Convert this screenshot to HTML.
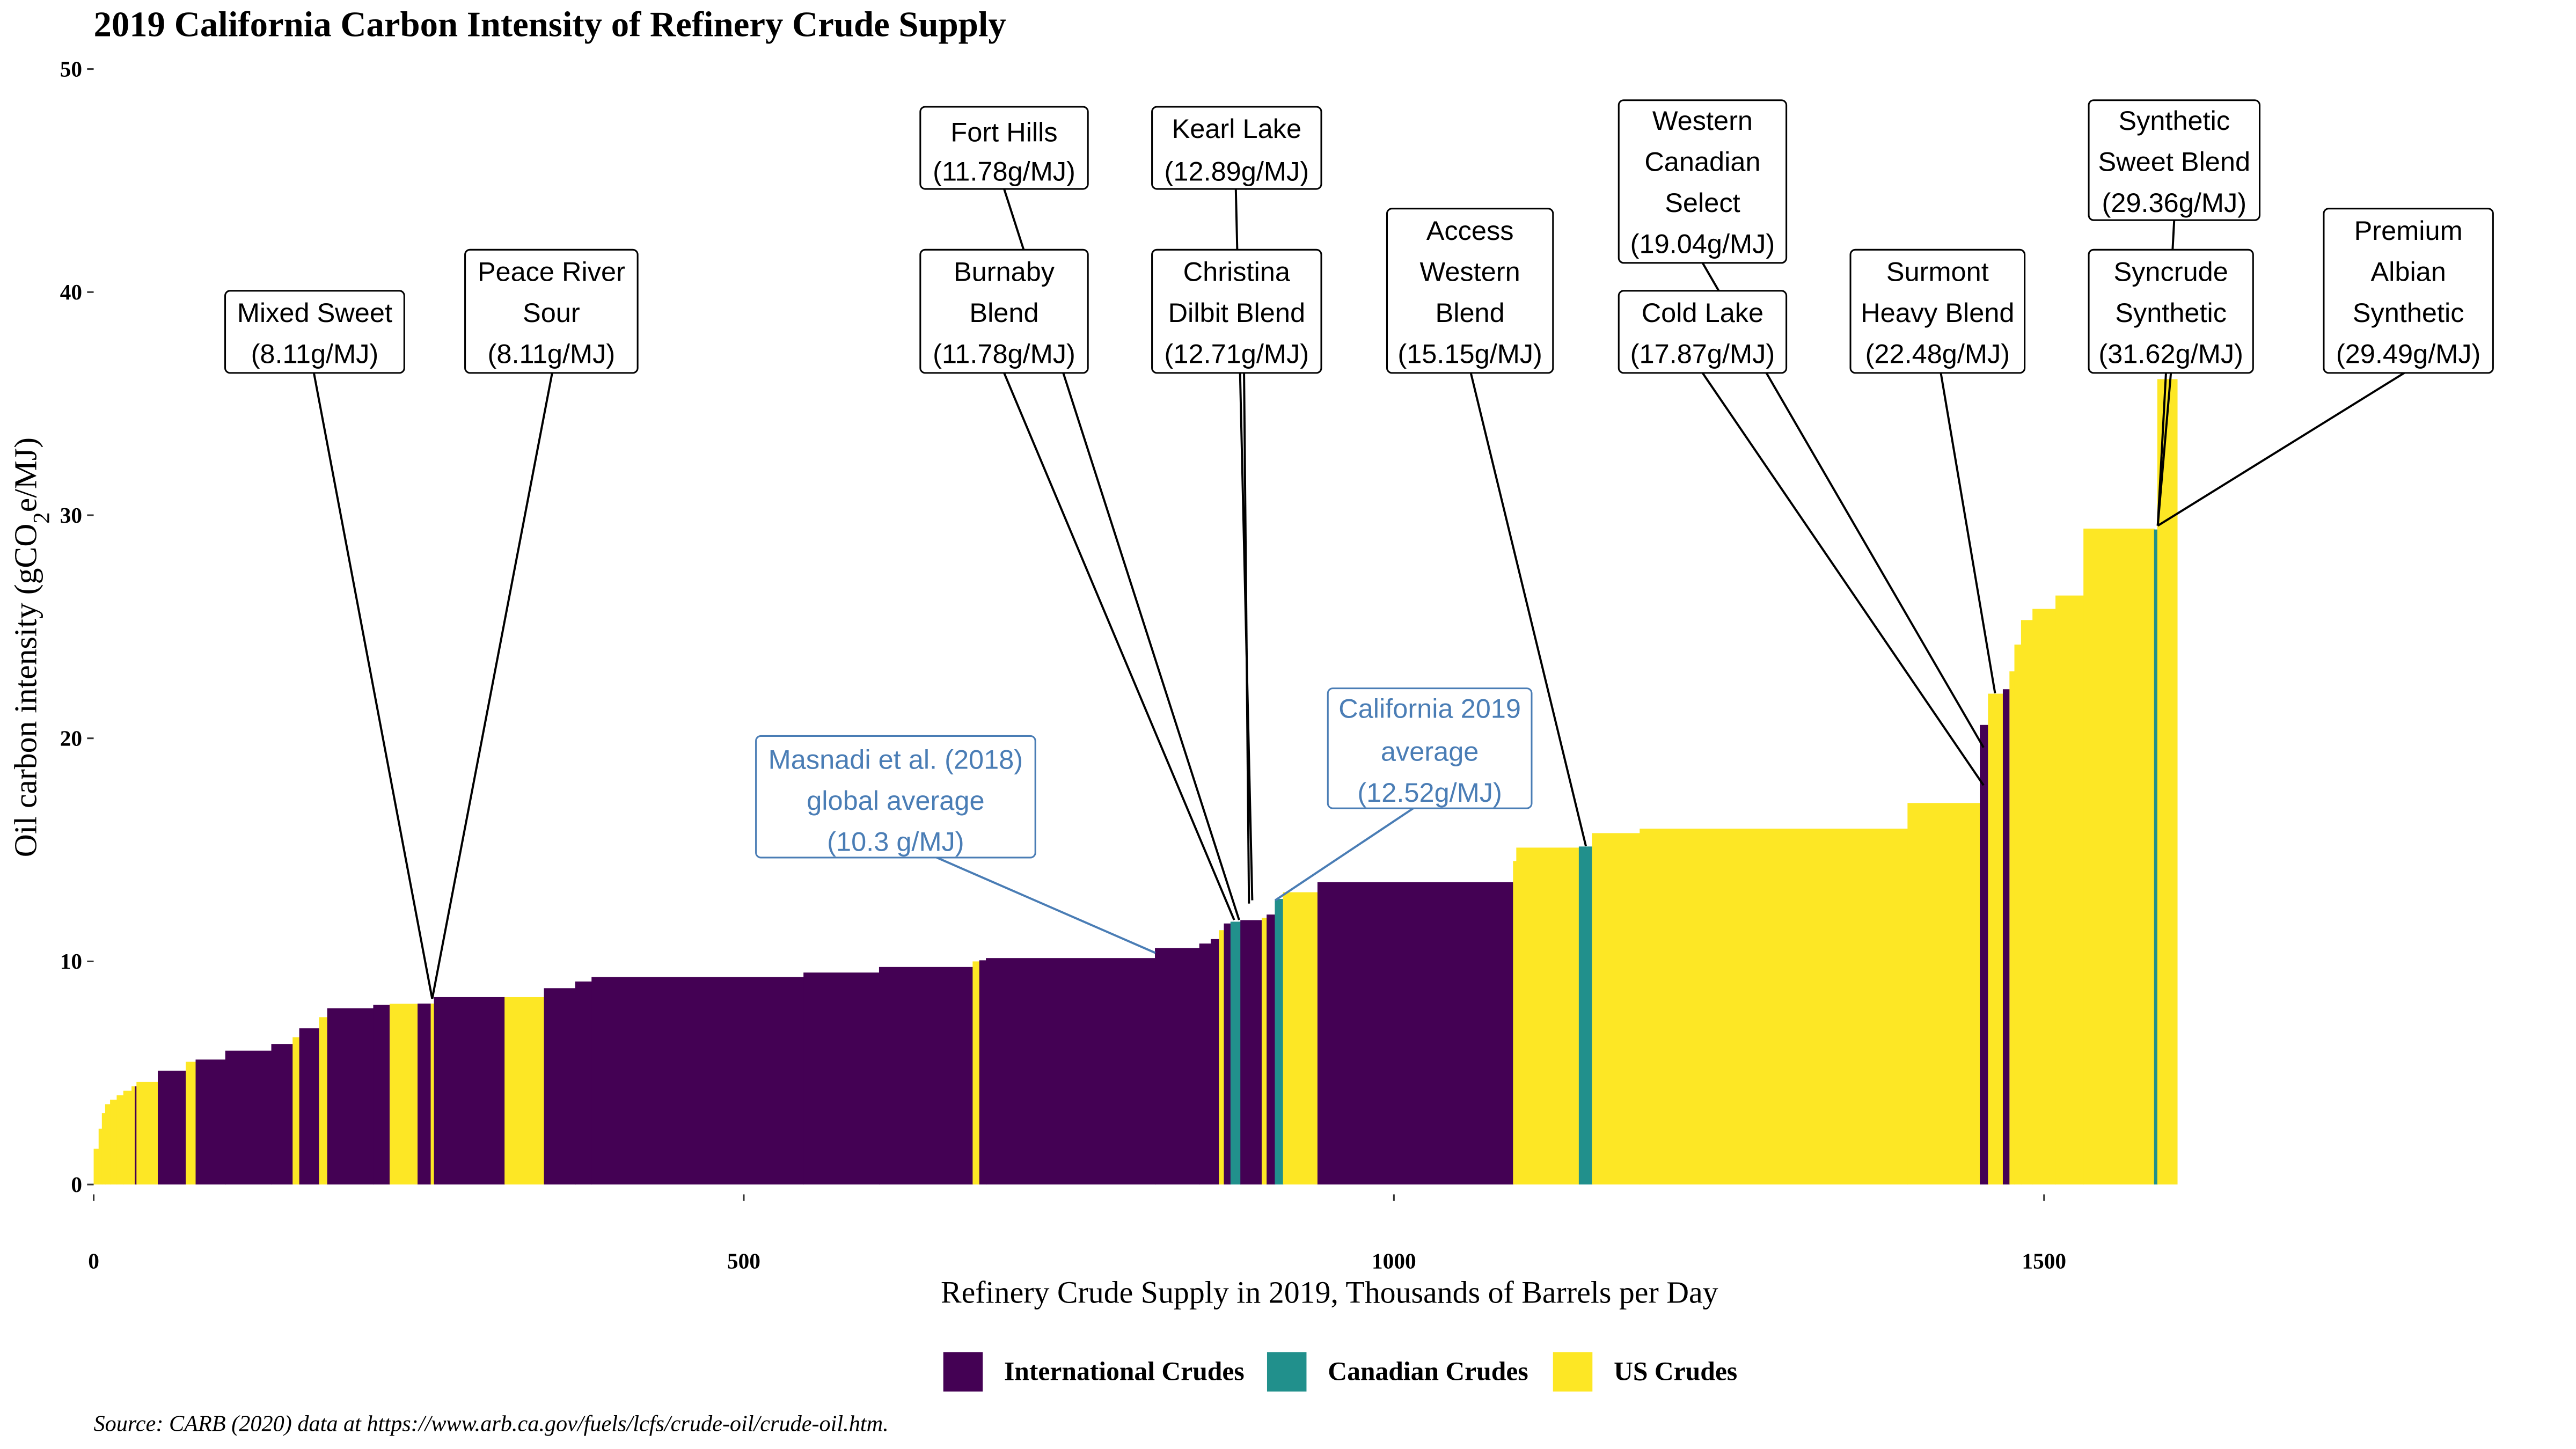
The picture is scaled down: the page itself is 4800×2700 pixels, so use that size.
<!DOCTYPE html>
<html><head><meta charset="utf-8"><style>
html,body{margin:0;padding:0;background:#fff;}
svg{display:block;}
.serif{font-family:"Liberation Serif",serif;}
.ann{font-family:"Liberation Sans",sans-serif;font-size:16.5px;text-anchor:middle;}
</style></head><body>
<svg id="chart" xmlns="http://www.w3.org/2000/svg" width="4800" height="2700" viewBox="0 0 1567.5 882" preserveAspectRatio="none">
<text class="serif" x="57" y="22" font-size="21.8" font-weight="bold">2019 California Carbon Intensity of Refinery Crude Supply</text>
<g id="bars"></g>
<g id="axes"></g>
<g id="leaders"></g>
<g id="boxes"></g>
<text class="serif" x="809" y="793" font-size="18.9" text-anchor="middle">Refinery Crude Supply in 2019, Thousands of Barrels per Day</text>
<text class="serif" transform="translate(22,394) rotate(-90)" font-size="19.5" text-anchor="middle">Oil carbon intensity (gCO<tspan baseline-shift="sub" font-size="14">2</tspan>e/MJ)</text>
<g class="serif" font-size="16.2" font-weight="bold">
<rect x="574" y="823" width="24" height="24" fill="#440154"/>
<text x="611" y="840">International Crudes</text>
<rect x="771" y="823" width="24" height="24" fill="#21908C"/>
<text x="808" y="840">Canadian Crudes</text>
<rect x="945" y="823" width="24" height="24" fill="#FDE725"/>
<text x="982" y="840">US Crudes</text>
</g>
<text class="serif" x="57" y="871" font-size="13.8" font-style="italic">Source: CARB (2020) data at https://www.arb.ca.gov/fuels/lcfs/crude-oil/crude-oil.htm.</text>
</svg>
<script>
// 0 = International, 1 = Canadian, 2 = US
const categories = [2,2,2,2,2,2,2,2, 0,2,0,2,0,0,0,2,0,2,0,0,2,0,2,0,2,0,0,0,0,0,2,0,0,0,0,0,2,0,1,0,2,0,1,2,0,2,2,1,2,2,2,0,2,0,2,2,2,2,2,2,1,2];
const volumes = [3.8,2.5,2.5,3.8,5.1,5.1,6.3,2.5, 1.3,16.4,21.5,7.6,22.8,35.4,16.4,5.1,15.2,6.3,35.4,12.6,21.5,10.1,2.5,54.3,30.3,24,12.6,163,58.1,72,5.1,5.1,130,34.1,8.8,6.3,3.8,5.1,7.6,16.4,3.8,6.3,6.3,26.5,150.4,2.5,48.1,10.1,36.7,206,55.6,6.3,11.4,5.1,3.8,5.1,8.8,17.7,21.5,54.3,2.5,15.2];
const intensities = [1.6,2.5,3.2,3.6,3.8,4.0,4.2,4.4, 4.4,4.6,5.1,5.5,5.6,6.0,6.3,6.6,7.0,7.5,7.9,8.05,8.1,8.11,8.11,8.4,8.4,8.8,9.1,9.3,9.5,9.75,10.0,10.05,10.15,10.6,10.8,11.0,11.4,11.7,11.78,11.85,11.95,12.1,12.8,13.1,13.55,14.5,15.1,15.15,15.75,15.95,17.1,20.6,22.0,22.2,23.0,24.2,25.3,25.8,26.4,29.4,29.36,36.1];
const xTicks = [0,500,1000,1500];
const yTicks = [0,10,20,30,40,50];
const colors = ["#440154","#21908C","#FDE725"];
const NS = "http://www.w3.org/2000/svg";
function sx(v){return 57 + v*0.7912;}
function sy(v){return 721 - v*13.58;}
function mk(tag, attrs, parent){const e=document.createElementNS(NS,tag);for(const k in attrs)e.setAttribute(k,attrs[k]);parent.appendChild(e);return e;}
const barsG=document.getElementById('bars');
let cum=0;
for(let i=0;i<volumes.length;i++){
  const r=mk('rect',{x:sx(cum),y:sy(intensities[i]),width:sx(cum+volumes[i])-sx(cum)+0.3,height:sy(0)-sy(intensities[i]),fill:colors[categories[i]]},barsG);
  
  
  cum+=volumes[i];
}
const axG=document.getElementById('axes');
xTicks.forEach(t=>{
  const l=mk('line',{x1:sx(t),x2:sx(t),y1:727,y2:731,stroke:'#333','stroke-width':1},axG);
  
  
  const tx=mk('text',{x:sx(t),y:772,'font-size':13.5,'font-weight':'bold','text-anchor':'middle','class':'serif'},axG);
  tx.textContent=t;
  
  
});
yTicks.forEach(t=>{
  const l=mk('line',{x1:53,x2:57,y1:sy(t),y2:sy(t),stroke:'#333','stroke-width':1},axG);
  
  
  const tx=mk('text',{x:50,y:sy(t)+4.5,'font-size':13.5,'font-weight':'bold','text-anchor':'end','class':'serif'},axG);
  tx.textContent=t;
  
  
});
const anns=[
 {n:'mixed-sweet',b:[137,177,246,227],t:['Mixed Sweet','(8.11g/MJ)'],ty:[196,221],l:[191,227,263,608]},
 {n:'peace-river-sour',b:[283,152,388,227],t:['Peace River','Sour','(8.11g/MJ)'],ty:[171,196,221],l:[336,227,263,608]},
 {n:'fort-hills',b:[560,65,662,115],t:['Fort Hills','(11.78g/MJ)'],ty:[86,110],l:[611,115,754,560]},
 {n:'burnaby-blend',b:[560,152,662,227],t:['Burnaby','Blend','(11.78g/MJ)'],ty:[171,196,221],l:[611,227,751,560]},
 {n:'kearl-lake',b:[701,65,804,115],t:['Kearl Lake','(12.89g/MJ)'],ty:[84,110],l:[752,115,762,548]},
 {n:'christina-dilbit-blend',b:[701,152,804,227],t:['Christina','Dilbit Blend','(12.71g/MJ)'],ty:[171,196,221],l:[757,227,760,550]},
 {n:'access-western-blend',b:[844,127,945,227],t:['Access','Western','Blend','(15.15g/MJ)'],ty:[146,171,196,221],l:[895,227,965,515]},
 {n:'western-canadian-select',b:[985,61,1087,160],t:['Western','Canadian','Select','(19.04g/MJ)'],ty:[79,104,129,154],l:[1036,160,1207,455]},
 {n:'cold-lake',b:[985,177,1087,227],t:['Cold Lake','(17.87g/MJ)'],ty:[196,221],l:[1036,227,1207,478]},
 {n:'surmont-heavy-blend',b:[1126,152,1232,227],t:['Surmont','Heavy Blend','(22.48g/MJ)'],ty:[171,196,221],l:[1181,227,1214,422]},
 {n:'synthetic-sweet-blend',b:[1271,61,1375,134],t:['Synthetic','Sweet Blend','(29.36g/MJ)'],ty:[79,104,129],l:[1323,134,1313,320]},
 {n:'syncrude-synthetic',b:[1271,152,1371,227],t:['Syncrude','Synthetic','(31.62g/MJ)'],ty:[171,196,221],l:[1321,227,1313,320]},
 {n:'premium-albian-synthetic',b:[1414,127,1517,227],t:['Premium','Albian','Synthetic','(29.49g/MJ)'],ty:[146,171,196,221],l:[1463,227,1313,320]},
 {n:'masnadi-global-average',c:'#4a7db5',b:[460,448,630,522],t:['Masnadi et al. (2018)','global average','(10.3 g/MJ)'],ty:[468,493,518],l:[570,522,703,580]},
 {n:'california-2019-average',c:'#4a7db5',b:[808,419,932,492],t:['California 2019','average','(12.52g/MJ)'],ty:[437,463,488],l:[860,492,776,548]}
];
const ldG=document.getElementById('leaders'), bxG=document.getElementById('boxes');
anns.forEach(a=>{
  const col=a.c||'#000';
  const ln=mk('line',{x1:a.l[0],y1:a.l[1],x2:a.l[2],y2:a.l[3],stroke:col,'stroke-width':1.3},ldG);
  
  
  const g=mk('g',{},bxG);
  
  
  mk('rect',{x:a.b[0],y:a.b[1],width:a.b[2]-a.b[0],height:a.b[3]-a.b[1],rx:3,fill:'#fff',stroke:col,'stroke-width':1},g);
  a.t.forEach((s,i)=>{const tx=mk('text',{x:(a.b[0]+a.b[2])/2,y:a.ty[i],'class':'ann',fill:a.c?col:'#000'},g);tx.textContent=s;});
});
</script>
</body></html>
